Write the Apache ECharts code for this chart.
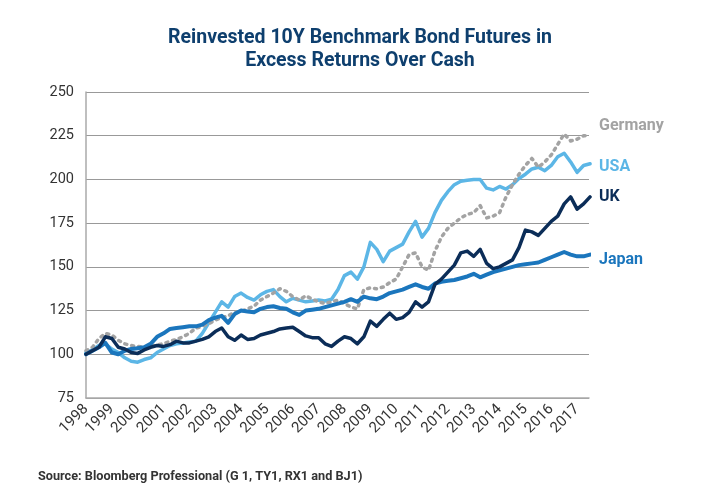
<!DOCTYPE html>
<html>
<head>
<meta charset="utf-8">
<script src="https://cdn.jsdelivr.net/npm/echarts@6/dist/echarts.min.js"></script>
<style>
  html, body { margin: 0; padding: 0; background: #fff; }
  #chart { width: 720px; height: 500px; }
</style>
</head>
<body>
<div id="chart"></div>
<script>
// quarterly readings, 1998.00 .. 2017.50
var dates = [
  1998.00, 1998.25, 1998.50, 1998.75, 1999.00, 1999.25, 1999.50, 1999.75,
  2000.00, 2000.25, 2000.50, 2000.75, 2001.00, 2001.25, 2001.50, 2001.75,
  2002.00, 2002.25, 2002.50, 2002.75, 2003.00, 2003.25, 2003.50, 2003.75,
  2004.00, 2004.25, 2004.50, 2004.75, 2005.00, 2005.25, 2005.50, 2005.75,
  2006.00, 2006.25, 2006.50, 2006.75, 2007.00, 2007.25, 2007.50, 2007.75,
  2008.00, 2008.25, 2008.50, 2008.75, 2009.00, 2009.25, 2009.50, 2009.75,
  2010.00, 2010.25, 2010.50, 2010.75, 2011.00, 2011.25, 2011.50, 2011.75,
  2012.00, 2012.25, 2012.50, 2012.75, 2013.00, 2013.25, 2013.50, 2013.75,
  2014.00, 2014.25, 2014.50, 2014.75, 2015.00, 2015.25, 2015.50, 2015.75,
  2016.00, 2016.25, 2016.50, 2016.75, 2017.00, 2017.25, 2017.50
];

var germany = [
  102, 104, 109, 112, 111, 108, 106, 105,
  104.5, 104, 104.5, 105.5, 106, 107.5, 108.5, 110,
  112, 115, 116, 117.5, 119.5, 121, 122, 124,
  124.5, 126, 127.5, 131, 133, 135, 137.5, 136,
  133, 131, 133.5, 131.5, 130, 129, 130, 131,
  129, 127, 126, 137, 138, 137.5, 138.5, 141,
  143, 150, 157, 158, 150, 148, 159, 167,
  172, 175, 178, 180, 181, 185, 178, 179,
  181, 190, 197, 203, 208, 212, 207, 210,
  214, 220, 226, 222, 223, 225, 225
];

var usa = [
  101, 102.5, 105, 106, 103, 101, 98, 96,
  95.5, 97, 98, 101, 103, 105, 106, 106.5,
  107, 107.5, 112, 118, 124, 130, 127, 133,
  135, 132.5, 131, 134, 136, 137, 133, 130,
  132, 131, 130, 130.5, 131, 130.5, 131.5, 137,
  145, 147, 143, 150, 164, 160, 153, 159,
  161, 163, 170, 176, 167, 172, 181, 188,
  193, 197, 199, 199.5, 200, 200, 195, 194,
  196, 194.5, 197, 200.5, 203, 206, 207, 205,
  208, 213, 215, 210, 204, 208, 209
];

var uk = [
  100, 102, 104, 110, 109, 104, 103, 101,
  100.5, 102.5, 104, 105, 104.5, 105.5, 107.5, 106.5,
  106.5, 107.5, 108.5, 110, 113, 115, 110, 108,
  111, 108.5, 109, 111, 112, 113, 114.5, 115,
  115.5, 113, 110.5, 109.5, 109.5, 106, 104.5, 107.5,
  110, 109, 106, 110, 119, 116, 120, 123.5,
  120, 121, 124, 130, 127, 130, 140, 143,
  147, 151, 158, 159, 156, 160, 152, 149,
  150, 152, 154, 161, 171, 170, 168, 172,
  176, 179, 186, 190, 183, 186, 190
];

var japan = [
  100, 102, 104, 106.5, 101, 100, 102, 103,
  103.5, 104, 106, 110, 112, 114.5, 115, 115.5,
  116, 116, 117, 119.5, 121, 122, 118, 123,
  125, 124.5, 124, 126, 127, 127.5, 126.5, 126,
  124, 122.5, 125, 125.5, 126, 127, 128, 129,
  130, 131.5, 130, 133, 132, 131.5, 133, 135,
  136, 137, 138.5, 140, 138.5, 137.5, 140.5, 141.5,
  142, 142.5, 143.5, 144.5, 146, 144, 145.5, 147,
  148, 149, 150, 151, 151.5, 152, 152.5, 154,
  155.5, 157, 158.5, 157, 156, 156, 157
];

var yTicks = { min: 75, max: 250, step: 25 };
var xTicks = { min: 1998, max: 2017.46, step: 1 };

function pairs(vals) {
  return dates.map(function(d, i) { return [d, vals[i]]; });
}

function makeSeries(name, vals, color, width, dash, labelOffset) {
  return {
    name: name,
    type: 'line',
    data: pairs(vals),
    showSymbol: false,
    symbol: 'none',
    lineStyle: { color: color, width: width, type: dash || 'solid', cap: 'round', join: 'round' },
    endLabel: {
      show: true,
      formatter: '{a}',
      color: color,
      fontFamily: 'Roboto',
      fontWeight: 'bold',
      fontSize: 16,
      distance: 9,
      offset: labelOffset
    }
  };
}

var chart = echarts.init(document.getElementById('chart'));
chart.setOption({
  animation: false,
  backgroundColor: '#fff',
  title: {
    text: 'Reinvested 10Y Benchmark Bond Futures in\nExcess Returns Over Cash',
    left: 'center',
    top: 22,
    textStyle: {
      color: '#0e3f6e',
      fontFamily: 'Roboto',
      fontWeight: 'bold',
      fontSize: 19.5,
      lineHeight: 23
    }
  },
  graphic: [{
    type: 'text',
    left: 38,
    top: 470,
    style: {
      text: 'Source: Bloomberg Professional (G 1, TY1, RX1 and BJ1)',
      fill: '#333',
      font: 'bold 12.7px Roboto'
    }
  }],
  grid: { left: 86, right: 131, top: 92, bottom: 102, containLabel: false },
  xAxis: {
    type: 'value',
    min: xTicks.min,
    max: xTicks.max,
    interval: xTicks.step,
    splitLine: { show: false },
    axisTick: { show: false },
    axisLine: { show: true, lineStyle: { color: '#aaa', width: 1.5 } },
    axisLabel: {
      rotate: 45,
      showMaxLabel: false,
      margin: 9,
      color: '#333',
      fontFamily: 'Roboto',
      fontSize: 15,
      formatter: function(v) { return Number.isInteger(v) ? String(v) : ''; }
    }
  },
  yAxis: {
    type: 'value',
    min: yTicks.min,
    max: yTicks.max,
    interval: yTicks.step,
    axisTick: { show: false },
    axisLine: { show: true, lineStyle: { color: '#aaa', width: 1.5 } },
    splitLine: { lineStyle: { color: '#999', width: 1 } },
    axisLabel: {
      margin: 12,
      color: '#333',
      fontFamily: 'Roboto',
      fontSize: 14.5
    }
  },
  series: [
    makeSeries('USA', usa, '#5cb6e6', 3.5, null, [0, 3]),
    makeSeries('Germany', germany, '#a3a3a3', 3.5, [2, 5], [0, -10]),
    makeSeries('Japan', japan, '#1b76bd', 4, null, [0, 5]),
    makeSeries('UK', uk, '#0b2d58', 3.5, null, [0, 0])
  ]
});
</script>
</body>
</html>
